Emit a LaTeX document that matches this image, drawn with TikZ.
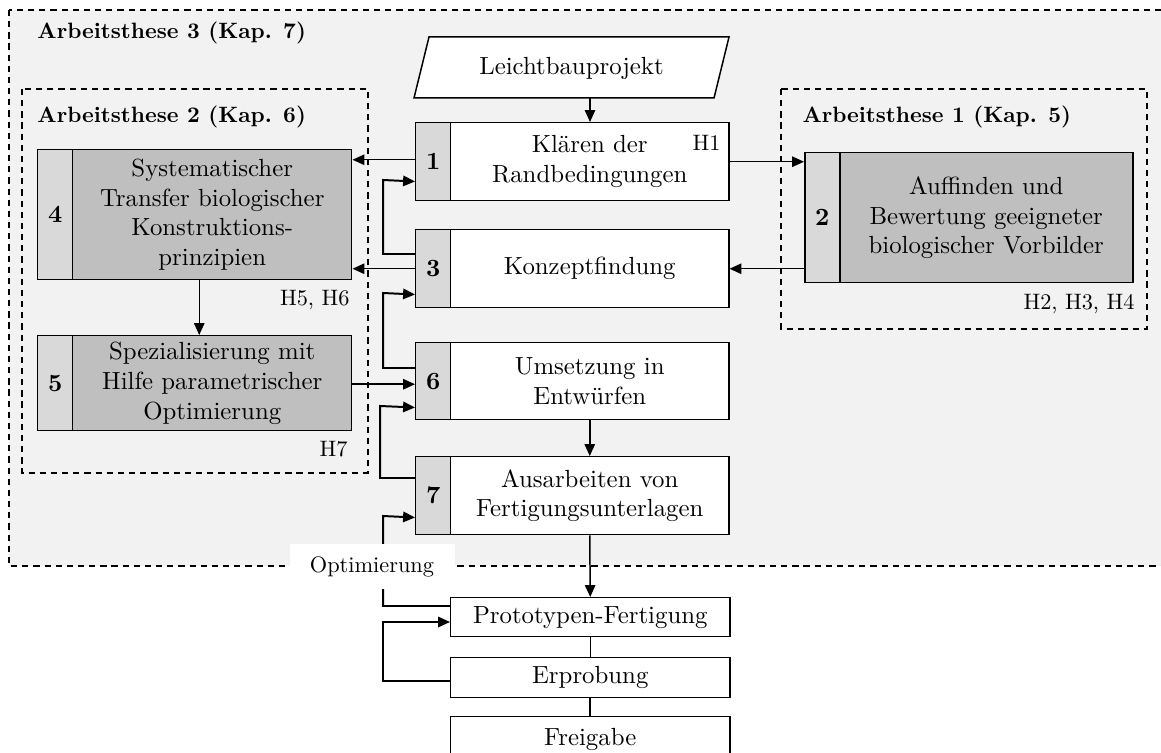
\documentclass[tikz,border=0pt]{standalone}
\usepackage{fontspec}
\usetikzlibrary{arrows.meta,calc}
\definecolor{bggray}{HTML}{F2F2F2}
\definecolor{numgray}{HTML}{D9D9D9}
\definecolor{bodygray}{HTML}{BFBFBF}
\def\PX{0.4032pt}
\newcommand{\ttl}[1]{\scalebox{0.895}{\bfseries #1}}
\newcommand{\smalltxt}[1]{\scalebox{0.9}{#1}}
\tikzset{
  numbox/.style={draw, line width=0.6pt, fill=numgray, font=\bfseries, inner sep=0pt, anchor=north west, minimum width=35*\PX},
  bodybox/.style={draw, line width=0.6pt, fill=white, align=center, inner sep=0pt, anchor=north west},
  graybody/.style={bodybox, fill=bodygray},
  htext/.style={inner sep=0pt, anchor=east},
  titletext/.style={inner sep=0pt, anchor=west},
  dbox/.style={dash pattern=on 2.5pt off 2pt, line width=0.55pt},
  arr/.style={line width=0.6pt, -{Triangle[length=4.8pt,width=4.2pt]}},
  elbow/.style={line width=0.8pt, -{Triangle[length=4.8pt,width=4.2pt]}},
  plain/.style={line width=0.8pt},
}
\begin{document}
\begin{tikzpicture}[x=0.4032pt, y=-0.4032pt]
\useasboundingbox (0,0) rectangle (1161,753);
% outer group
\draw[dbox, fill=bggray] (9,10) rectangle (1190,566);
\node[titletext] (t3) at (37,33) {\ttl{Arbeitsthese 3 (Kap. 7)}};
% inner groups
\draw[dbox] (22,89) rectangle (368,473);
\node[titletext] (t2) at (37,117) {\ttl{Arbeitsthese 2 (Kap. 6)}};
\draw[dbox] (781,89) rectangle (1147,329);
\node[titletext] (t1) at (802,117) {\ttl{Arbeitsthese 1 (Kap. 5)}};

% input parallelogram
\draw[line width=0.6pt, fill=white] (414,98) -- (429,37) -- (729,37) -- (714,98) -- cycle;
\node (lb) at (571.5,68) {Leichtbauprojekt};
\coordinate (lbb) at (590,98);

% central column
\node[numbox, minimum height=78*\PX] (n1) at (415,122) {1};
\node[bodybox, minimum width=278*\PX, minimum height=78*\PX] (b1) at (450,122) {Klären der\\Randbedingungen};
\node[htext] (h1) at (721,143) {\smalltxt{H1}};

\node[numbox, minimum height=78*\PX] (n3) at (415,229) {3};
\node[bodybox, minimum width=278*\PX, minimum height=78*\PX] (b3) at (450,229) {Konzeptfindung};

\node[numbox, minimum height=77*\PX] (n6) at (415,342) {6};
\node[bodybox, minimum width=278*\PX, minimum height=77*\PX] (b6) at (450,342) {Umsetzung in\\Entwürfen};

\node[numbox, minimum height=78*\PX] (n7) at (415,456) {7};
\node[bodybox, minimum width=278*\PX, minimum height=78*\PX] (b7) at (450,456) {Ausarbeiten von\\Fertigungsunterlagen};

% left boxes
\node[numbox, minimum height=130*\PX] (n4) at (37,149) {4};
\node[graybody, minimum width=279*\PX, minimum height=130*\PX] (b4) at (72,149) {Systematischer\\Transfer biologischer\\Konstruktions-\\prinzipien};
\node[htext] (h56) at (350,300) {\smalltxt{H5, H6}};

\node[numbox, minimum height=95*\PX] (n5) at (37,335) {5};
\node[graybody, minimum width=279*\PX, minimum height=95*\PX] (b5) at (72,335) {Spezialisierung mit\\Hilfe parametrischer\\Optimierung};
\node[htext] (h7) at (348,449) {\smalltxt{H7}};

% right box
\node[numbox, minimum height=130*\PX] (n2) at (804,152) {2};
\node[graybody, minimum width=293*\PX, minimum height=130*\PX] (b2) at (839,152) {Auffinden und\\Bewertung geeigneter\\biologischer Vorbilder};
\node[htext] (h234) at (1135,304) {\smalltxt{H2, H3, H4}};

% lower chain
\node[bodybox, minimum width=279*\PX, minimum height=39*\PX] (pf) at (450,597) {Prototypen-Fertigung};
\node[bodybox, minimum width=279*\PX, minimum height=40*\PX] (er) at (450,657) {Erprobung};
\node[bodybox, minimum width=279*\PX, minimum height=45*\PX] (fg) at (450,716) {Freigabe};

% straight connectors
\draw[arr] (lbb) -- (lbb |- b1.north);
\coordinate (a14) at ([yshift=2*\PX]n1.west);
\draw[arr] (a14) -- (a14 -| b4.east);
\draw[arr] (n3.west) -- (n3.west -| b4.east);
\draw[arr] (b1.east) -- (b1.east -| n2.west);
\draw[arr] (n2.west |- n3.west) -- (b3.east);
\coordinate (a45) at ([xshift=-13*\PX]b4.south);
\draw[arr] (a45) -- (a45 |- b5.north);
\coordinate (a56) at ([yshift=-1*\PX]b5.east);
\draw[arr] (a56) -- (a56 -| n6.west);
\draw[arr] (b6.south) -- (b7.north);
\draw[arr] (b7.south) -- (pf.north);
\draw[line width=0.4pt] (pf.south) -- (er.north);
\draw[plain] (er.south) -- (fg.north);

% feedback loops
\draw[elbow] ([yshift=-25*\PX]n3.north west) -- (383,254) -- (383,180) -- ([yshift=20*\PX]n1.south west);
\draw[elbow] ([yshift=-26*\PX]n6.north west) -- (383,368) -- (383,293) -- ([yshift=14*\PX]n3.south west);
\draw[elbow] ([yshift=-22*\PX]n7.north west) -- (380,478) -- (380,406) -- ([yshift=13*\PX]n6.south west);
\draw[elbow] ([yshift=-9*\PX]pf.north west) -- (383,606) -- (383,516) -- ([yshift=18*\PX]n7.south west);
\draw[elbow] ([yshift=-24*\PX]er.north west) -- (383,681) -- (383,622) -- ([yshift=-25*\PX]pf.north west);

% label on the optimisation loop
\node[fill=white, inner sep=0pt, minimum width=165*\PX, minimum height=45*\PX] (opt) at (372,566.5) {\smalltxt{Optimierung}};
\end{tikzpicture}
\end{document}
